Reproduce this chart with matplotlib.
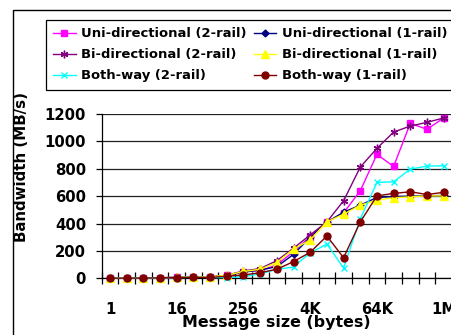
import matplotlib.pyplot as plt
from matplotlib.patches import Rectangle

sizes = ['1', '2', '4', '8', '16', '32', '64', '128', '256', '512', '1K', '2K',
         '4K', '8K', '16K', '32K', '64K', '128K', '256K', '512K', '1M']
shown_labels = ['1', '16', '256', '4K', '64K', '1M']

uni_2rail = [2, 2, 3, 4, 7, 12, 10, 22, 49, 56, 98, 195, 305, 410, 478, 639, 905, 817, 1132, 1088, 1171]
uni_1rail = [2, 2, 3, 4, 7, 11, 9, 20, 45, 60, 85, 175, 300, 410, 483, 534, 590, 597, 600, 603, 605]
bi_2rail = [2, 2, 3, 4, 7, 12, 11, 22, 54, 71, 129, 220, 317, 412, 566, 812, 949, 1068, 1112, 1139, 1171]
bi_1rail = [2, 2, 3, 4, 7, 12, 11, 22, 50, 66, 115, 214, 280, 412, 468, 534, 571, 588, 595, 602, 602]
both_2rail = [1, 1, 2, 3, 5, 8, 6, 5, 12, 32, 66, 82, 187, 249, 76, 433, 700, 705, 798, 819, 822]
both_1rail = [1, 1, 2, 3, 5, 8, 6, 15, 24, 41, 66, 122, 190, 309, 150, 411, 602, 620, 632, 612, 628]

plt.rcParams['font.family'] = ['DejaVu Sans']
plt.rcParams['font.weight'] = 'bold'

W, H = 451, 335
fig = plt.figure(figsize=(W / 100, H / 100), dpi=100)
ax = fig.add_axes([101.7 / W, 1 - 278.3 / H, 350.3 / W, 164.3 / H])

x = list(range(len(sizes)))
series = [
    ('Uni-directional (2-rail)', uni_2rail, '#FF00FF', 's', 4.5),
    ('Uni-directional (1-rail)', uni_1rail, '#000080', 'D', 3.5),
    ('Bi-directional (2-rail)', bi_2rail, '#800080', (6, 2, 0), 5.5),
    ('Bi-directional (1-rail)', bi_1rail, '#FFFF00', '^', 5.5),
    ('Both-way (2-rail)', both_2rail, '#00FFFF', 'x', 4.5),
    ('Both-way (1-rail)', both_1rail, '#800000', 'o', 5),
]
handles = {}
for name, vals, col, mk, ms in series:
    ln, = ax.plot(x, vals, color=col, marker=mk, markersize=ms, lw=1,
                  markeredgewidth=1, clip_on=False, zorder=3, label=name)
    handles[name] = ln

ax.set_xlim(-0.5, 20.5)
ax.set_ylim(0, 1200)
ax.set_yticks(range(0, 1201, 200))
ax.yaxis.grid(True, color='#202020', lw=0.9)
ax.set_axisbelow(True)

# category boundary ticks crossing the axis, labels on every 4th category
ax.set_xticks([i - 0.5 for i in range(22)])
ax.set_xticklabels([])
ax.set_xticks(x[::4], minor=True)
ax.set_xticklabels(shown_labels, minor=True)
ax.tick_params(axis='x', which='major', direction='inout', length=9, width=0.9)
ax.tick_params(axis='x', which='minor', length=0, pad=17, labelsize=10.7)
ax.tick_params(axis='y', direction='out', length=4.3, width=0.9, pad=7, labelsize=10.7)

for s in ['top', 'right']:
    ax.spines[s].set_visible(False)
for s in ['left', 'bottom']:
    ax.spines[s].set_linewidth(0.9)

ax.set_ylabel('Bandwidth (MB/s)', fontsize=10.8, fontweight='bold')
ax.yaxis.set_label_coords(29 / W, 0.5, transform=fig.transFigure)
ax.set_xlabel('Message size (bytes)', fontsize=11.4, fontweight='bold')
ax.xaxis.set_label_coords(276 / W, 1 - 323 / H, transform=fig.transFigure)
ax.xaxis.label.set_va('center')

order = ['Uni-directional (2-rail)', 'Bi-directional (2-rail)', 'Both-way (2-rail)',
         'Uni-directional (1-rail)', 'Bi-directional (1-rail)', 'Both-way (1-rail)']
leg = fig.legend([handles[n] for n in order], order, ncol=2, loc='upper left',
                 bbox_to_anchor=(46 / W, 1 - 20 / H), borderaxespad=0,
                 fontsize=9.45, handlelength=1.7, handletextpad=0.4,
                 columnspacing=0.6, labelspacing=0.62, borderpad=0.55,
                 fancybox=False, framealpha=1, edgecolor='black')
leg.get_frame().set_linewidth(0.9)

fig.patches.append(Rectangle((12.5 / W, -0.1), 1.2, 1.1 - 10.5 / H, transform=fig.transFigure,
                             fill=False, ec='black', lw=1))

plt.savefig('out.png', dpi=100)
